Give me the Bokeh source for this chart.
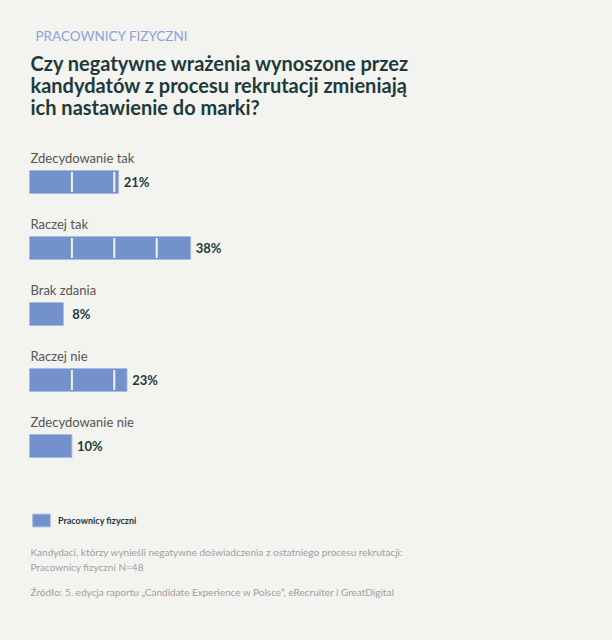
from bokeh.plotting import figure
from bokeh.models import Range1d, ColumnDataSource, Label, Legend, LegendItem
from bokeh.core.properties import value
from bokeh.embed import file_html
from bokeh.resources import INLINE

# ---- data ----
categories = ["Zdecydowanie tak", "Raczej tak", "Brak zdania", "Raczej nie", "Zdecydowanie nie"]
values = [21, 38, 8, 23, 10]
value_labels = ["21%", "38%", "8%", "23%", "10%"]
series_name = "Pracownicy fizyczni"
divider_step = 10

supertitle = "PRACOWNICY FIZYCZNI"
title_lines = ["Czy negatywne wrażenia wynoszone przez",
               "kandydatów z procesu rekrutacji zmieniają",
               "ich nastawienie do marki?"]
note_lines = ["Kandydaci, którzy wynieśli negatywne doświadczenia z ostatniego procesu rekrutacji:",
              "Pracownicy fizyczni N=48"]
source_line = "Źródło: 5. edycja raportu „Candidate Experience w Polsce”, eRecruiter i GreatDigital"

# ---- style / layout ----
BG = "#f3f3ef"
BAR = "#7391cb"
DARK = "#1e3a3c"
FONT = "Lato"
W, H = 600, 628
PX = 4.24          # pixels per percent
X0 = 29            # pixel of the 0 value
ROW0, ROWSTEP, BARH = 181.5, 66, 23


def px2x(px):
    return (px - X0) / PX


p = figure(width=W, height=H, x_range=Range1d(px2x(0), px2x(W)), y_range=Range1d(H, 0),
           x_axis_type=None, y_axis_type=None, output_backend="svg", toolbar_location=None,
           min_border=0, background_fill_color=BG, border_fill_color=BG, outline_line_color=None)
p.xgrid.visible = False
p.ygrid.visible = False

yc = [ROW0 + ROWSTEP * i for i in range(len(categories))]
src = ColumnDataSource(dict(cat=categories, val=values, lab=value_labels, y=yc,
                            ylab=[y - 24.5 for y in yc]))

bars = p.hbar(y="y", left=0, right="val", height=BARH, source=src,
              fill_color=BAR, line_color="#aabbe2", line_width=1)

# white dividers every 10%
dx, dy0, dy1 = [], [], []
for v, y in zip(values, yc):
    k = divider_step
    while k < v:
        dx.append(k)
        dy0.append(y - BARH / 2 + 1.5)
        dy1.append(y + BARH / 2 - 1.5)
        k += divider_step
p.segment(x0=dx, x1=dx, y0=dy0, y1=dy1, line_color="#f4f4f4", line_width=2)

p.text(x=0, y="ylab", text="cat", source=src, x_offset=1,
       text_font=value(FONT), text_font_size="13px", text_color="#555555",
       text_baseline="middle", text_align="left")
p.text(x="val", y="y", text="lab", source=src, x_offset=18,
       text_font=value(FONT), text_font_size="13px", text_font_style="bold",
       text_color=DARK, text_baseline="middle", text_align="center")

# titles
p.add_layout(Label(x=px2x(35), y=35, text=supertitle, text_font=FONT, text_font_size="13.5px",
                   text_color="#8ea2dc", text_baseline="middle"))
for i, t in enumerate(title_lines):
    p.add_layout(Label(x=px2x(30), y=62 + 22 * i, text=t, text_font=FONT, text_font_size="20px",
                       text_font_style="bold", text_color=DARK, text_baseline="middle"))

# notes
for i, t in enumerate(note_lines):
    p.add_layout(Label(x=px2x(30), y=551 + 15 * i, text=t, text_font=FONT, text_font_size="10px",
                       text_color="#a0a0a0", text_baseline="middle"))
p.add_layout(Label(x=px2x(30), y=591, text=source_line, text_font=FONT, text_font_size="10px",
                   text_color="#a0a0a0", text_baseline="middle"))

legend = Legend(items=[LegendItem(label=series_name, renderers=[bars])], location=(30, H - 528),
                glyph_width=22, glyph_height=16, padding=0, margin=0, label_standoff=6,
                label_text_font=FONT, label_text_font_size="9px", label_text_font_style="bold",
                label_text_color=DARK, border_line_color=None, background_fill_alpha=0)
p.add_layout(legend, "center")

tmpl = "{% block postamble %}<style>body{background:" + BG + ";}</style>{% endblock %}"
open("out.html", "w").write(file_html(p, INLINE, template=tmpl))
